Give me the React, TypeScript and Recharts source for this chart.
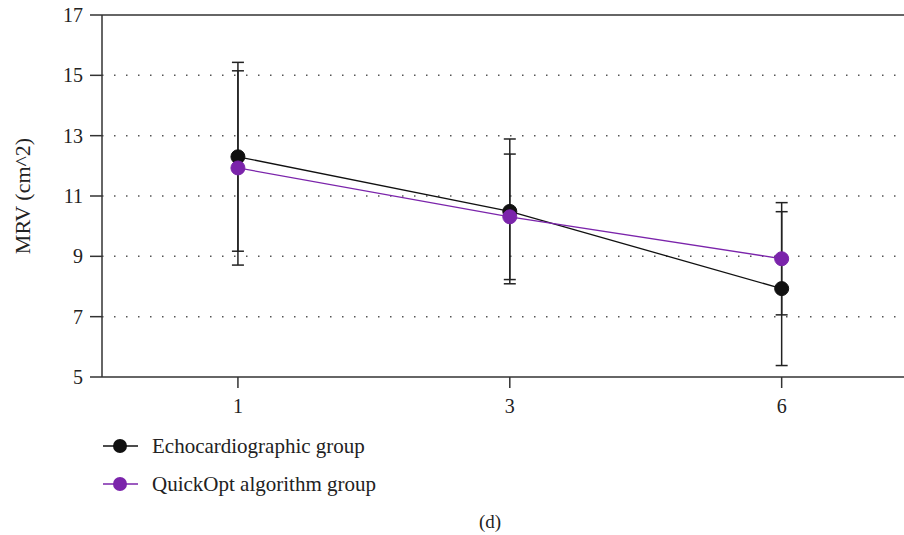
import { LineChart, Line, XAxis, YAxis, ErrorBar, ReferenceLine } from 'recharts'

// months after treatment
const categories = ['1', '3', '6']
const echoValues = [12.3, 10.49, 7.93]
const echoErrors = [3.13, 2.4, 2.55]
const quickValues = [11.93, 10.31, 8.92]
const quickErrors = [3.22, 2.08, 1.86]
const yTicks = [5, 7, 9, 11, 13, 15, 17]
const gridValues = [7, 9, 11, 13, 15]

const ECHO = '#111111'
const QUICK = '#7b24ab'
const AXIS = '#333333'
const FONT = '"Liberation Serif", "DejaVu Serif", serif'

const data = categories.map((c, i) => ({
  pos: i + 1,
  label: c,
  echo: echoValues[i],
  echoErr: echoErrors[i],
  quick: quickValues[i],
  quickErr: quickErrors[i],
}))

const legendItems = [
  { name: 'Echocardiographic group', color: ECHO },
  { name: 'QuickOpt algorithm group', color: QUICK },
]

export default function App() {
  return (
    <div style={{ position: 'absolute', left: 0, top: 0, width: 904, height: 535, background: '#fff', fontFamily: FONT, color: '#222' }}>
      <LineChart width={904} height={430} data={data} margin={{ top: 15, right: 0, left: 0, bottom: 0 }}>
        {gridValues.map(v => (
          <ReferenceLine key={v} y={v} stroke="#555" strokeWidth={1.5} strokeDasharray="1.5 10.5" />
        ))}
        <ReferenceLine y={17} stroke={AXIS} strokeWidth={1.5} />
        <XAxis
          dataKey="pos"
          type="number"
          domain={[0.5, 3.45]}
          ticks={[1, 2, 3]}
          tickFormatter={(v: number) => categories[v - 1]}
          allowDataOverflow
          height={53}
          stroke={AXIS}
          strokeWidth={1.5}
          tickSize={11}
          tickMargin={11}
          tick={{ fill: '#222', fontSize: 20, fontFamily: FONT }}
        />
        <YAxis
          domain={[5, 17]}
          ticks={yTicks}
          width={102}
          stroke={AXIS}
          strokeWidth={1.5}
          tickSize={12}
          tickMargin={7}
          tick={{ fill: '#222', fontSize: 20, fontFamily: FONT }}
        />
        <Line dataKey="echo" stroke={ECHO} strokeWidth={1.3} isAnimationActive={false}
          dot={{ r: 7, fill: ECHO, stroke: ECHO, strokeWidth: 1 }} activeDot={false}>
          <ErrorBar dataKey="echoErr" direction="y" width={6} stroke="#222" strokeWidth={1.5} />
        </Line>
        <Line dataKey="quick" stroke={QUICK} strokeWidth={1.3} isAnimationActive={false}
          dot={{ r: 7, fill: QUICK, stroke: QUICK, strokeWidth: 1 }} activeDot={false}>
          <ErrorBar dataKey="quickErr" direction="y" width={6} stroke="#222" strokeWidth={1.5} />
        </Line>
      </LineChart>

      <div style={{ position: 'absolute', left: 23, top: 196, transform: 'translate(-50%, -50%) rotate(-90deg)', fontSize: 22, whiteSpace: 'nowrap' }}>
        MRV (cm^2)
      </div>

      {legendItems.map((item, i) => (
        <div key={item.name} style={{ position: 'absolute', left: 102, top: 432 + i * 38, height: 28, display: 'flex', alignItems: 'center' }}>
          <svg width={40} height={28}>
            <line x1={1} y1={14} x2={36} y2={14} stroke={item.color} strokeWidth={1.3} />
            <circle cx={18} cy={14} r={7} fill={item.color} />
          </svg>
          <span style={{ marginLeft: 10, fontSize: 21 }}>{item.name}</span>
        </div>
      ))}

      <div style={{ position: 'absolute', left: 490, top: 522, transform: 'translate(-50%, -50%)', fontSize: 19 }}>(d)</div>
    </div>
  )
}
